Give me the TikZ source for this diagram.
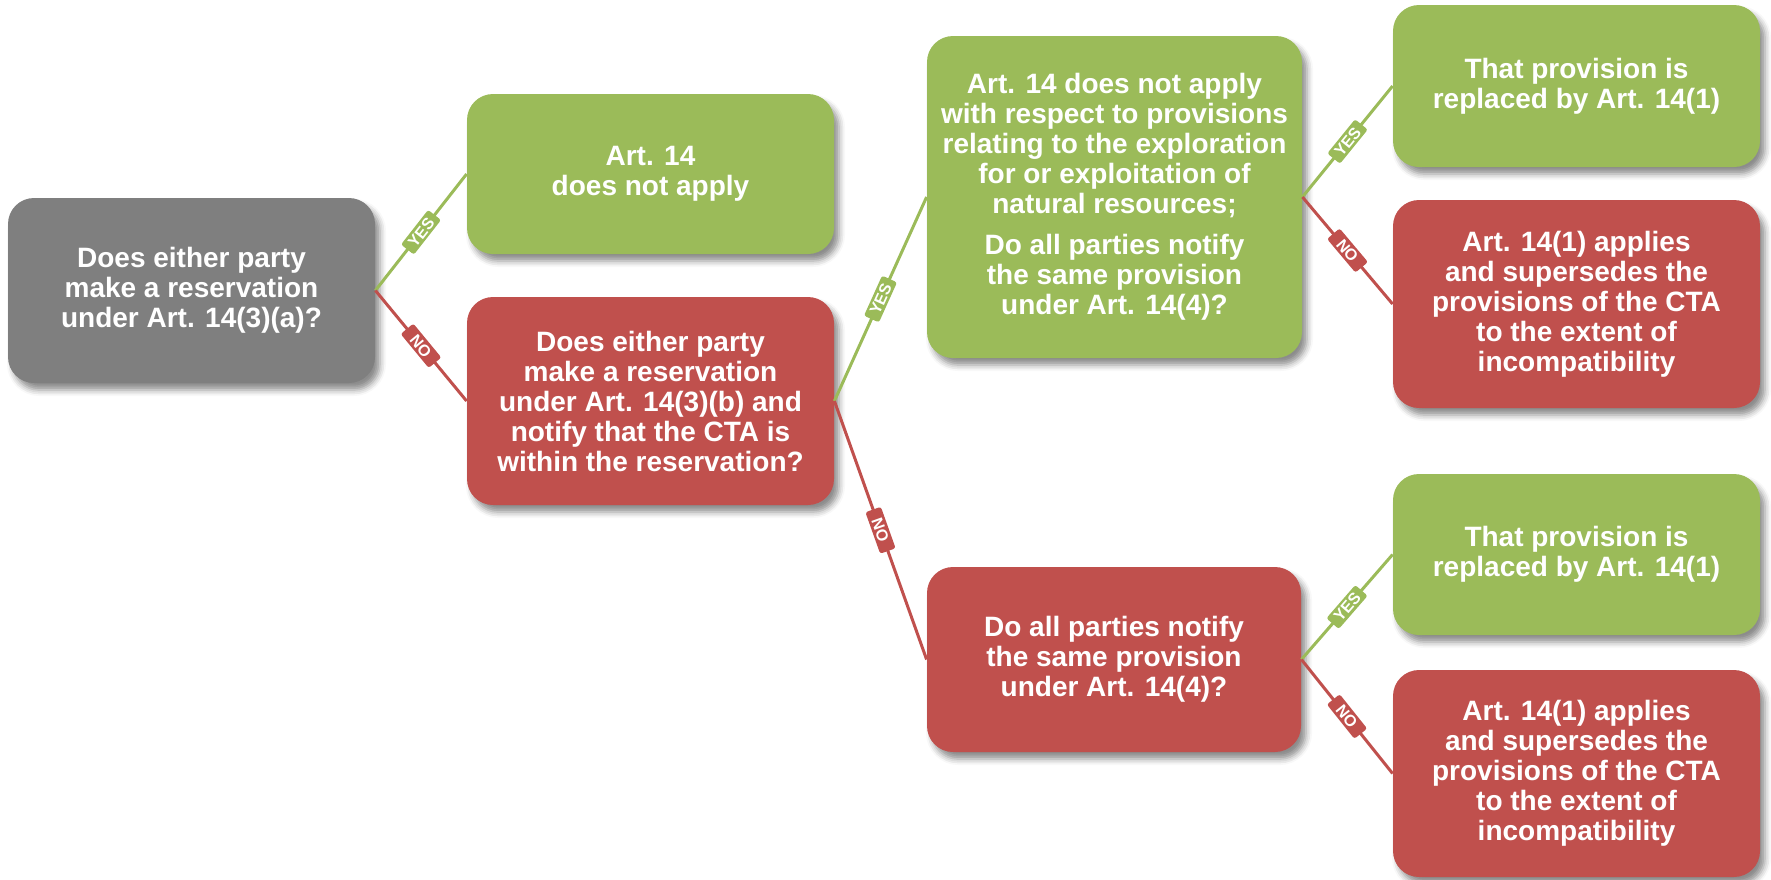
\documentclass[tikz,border=0pt]{standalone}
\usepackage{fontspec}
\setmainfont{Liberation Sans}
\usetikzlibrary{shadows.blur}
\definecolor{boxgrey}{HTML}{7F7F7F}
\definecolor{boxgreen}{HTML}{9BBB59}
\definecolor{boxred}{HTML}{C0504D}
\begin{document}
\begin{tikzpicture}[x=0.5pt,y=-0.5pt,
  card/.style={rounded corners=13pt, text=white, align=center,
    font=\bfseries\fontsize{14}{15}\selectfont, inner sep=0pt,
    blur shadow={shadow xshift=2.5pt, shadow yshift=-3.5pt,
      shadow blur radius=3pt, shadow opacity=45}},
  boxsize/.style 2 args={minimum width=#1*0.5pt, minimum height=#2*0.5pt},
  greycard/.style={card, fill=boxgrey},
  greencard/.style={card, fill=boxgreen},
  redcard/.style={card, fill=boxred},
  yesline/.style={draw=boxgreen, line width=1.5pt},
  noline/.style={draw=boxred, line width=1.5pt},
  tag/.style={sloped, pos=0.5, rounded corners=1.2pt, text=white,
    font=\bfseries\fontsize{8}{8}\selectfont, inner xsep=2pt,
    inner ysep=1.2pt, text height=5.8pt, text depth=0pt,
    minimum width=22pt},
  yestag/.style={tag, fill=boxgreen},
  notag/.style={tag, fill=boxred}]
\useasboundingbox (0,0) rectangle (1771,879);

% first question
\node[greycard, boxsize={367}{185}] (q1) at (191.5,290.5)
  {Does either party\\make a reservation\\under Art. 14(3)(a)?};

% second column
\node[greencard, boxsize={367}{160}] (a1) at (650.5,174)
  {Art. 14\\does not apply};
\node[redcard, boxsize={367}{208}] (q2) at (650.5,401)
  {Does either party\\make a reservation\\under Art. 14(3)(b) and\\notify that the CTA is\\within the reservation?};

% third column
\node[greencard, boxsize={375}{322}] (q3) at (1114.5,197)
  {Art. 14 does not apply\\with respect to provisions\\relating to the exploration\\for or exploitation of\\natural resources;\\[5.5pt]Do all parties notify\\the same provision\\under Art. 14(4)?};
\node[redcard, boxsize={374}{185}] (q4) at (1114,659.5)
  {Do all parties notify\\the same provision\\under Art. 14(4)?};

% outcomes
\node[greencard, boxsize={367}{162}] (r1) at (1576.5,86)
  {That provision is\\replaced by Art. 14(1)};
\node[redcard, boxsize={367}{208}] (r2) at (1576.5,304)
  {Art. 14(1) applies\\and supersedes the\\provisions of the CTA\\to the extent of\\incompatibility};
\node[greencard, boxsize={367}{161}] (r3) at (1576.5,554.5)
  {That provision is\\replaced by Art. 14(1)};
\node[redcard, boxsize={367}{207}] (r4) at (1576.5,773.5)
  {Art. 14(1) applies\\and supersedes the\\provisions of the CTA\\to the extent of\\incompatibility};

% decision branches
\draw[yesline] (q1.east) -- node[yestag] {YES} (a1.west);
\draw[noline]  (q1.east) -- node[notag] {NO} (q2.west);
\draw[yesline] (q2.east) -- node[yestag] {YES} (q3.west);
\draw[noline]  (q2.east) -- node[notag] {NO} (q4.west);
\draw[yesline] (q3.east) -- node[yestag] {YES} (r1.west);
\draw[noline]  (q3.east) -- node[notag] {NO} (r2.west);
\draw[yesline] (q4.east) -- node[yestag] {YES} (r3.west);
\draw[noline]  (q4.east) -- node[notag] {NO} (r4.west);
\end{tikzpicture}
\end{document}
